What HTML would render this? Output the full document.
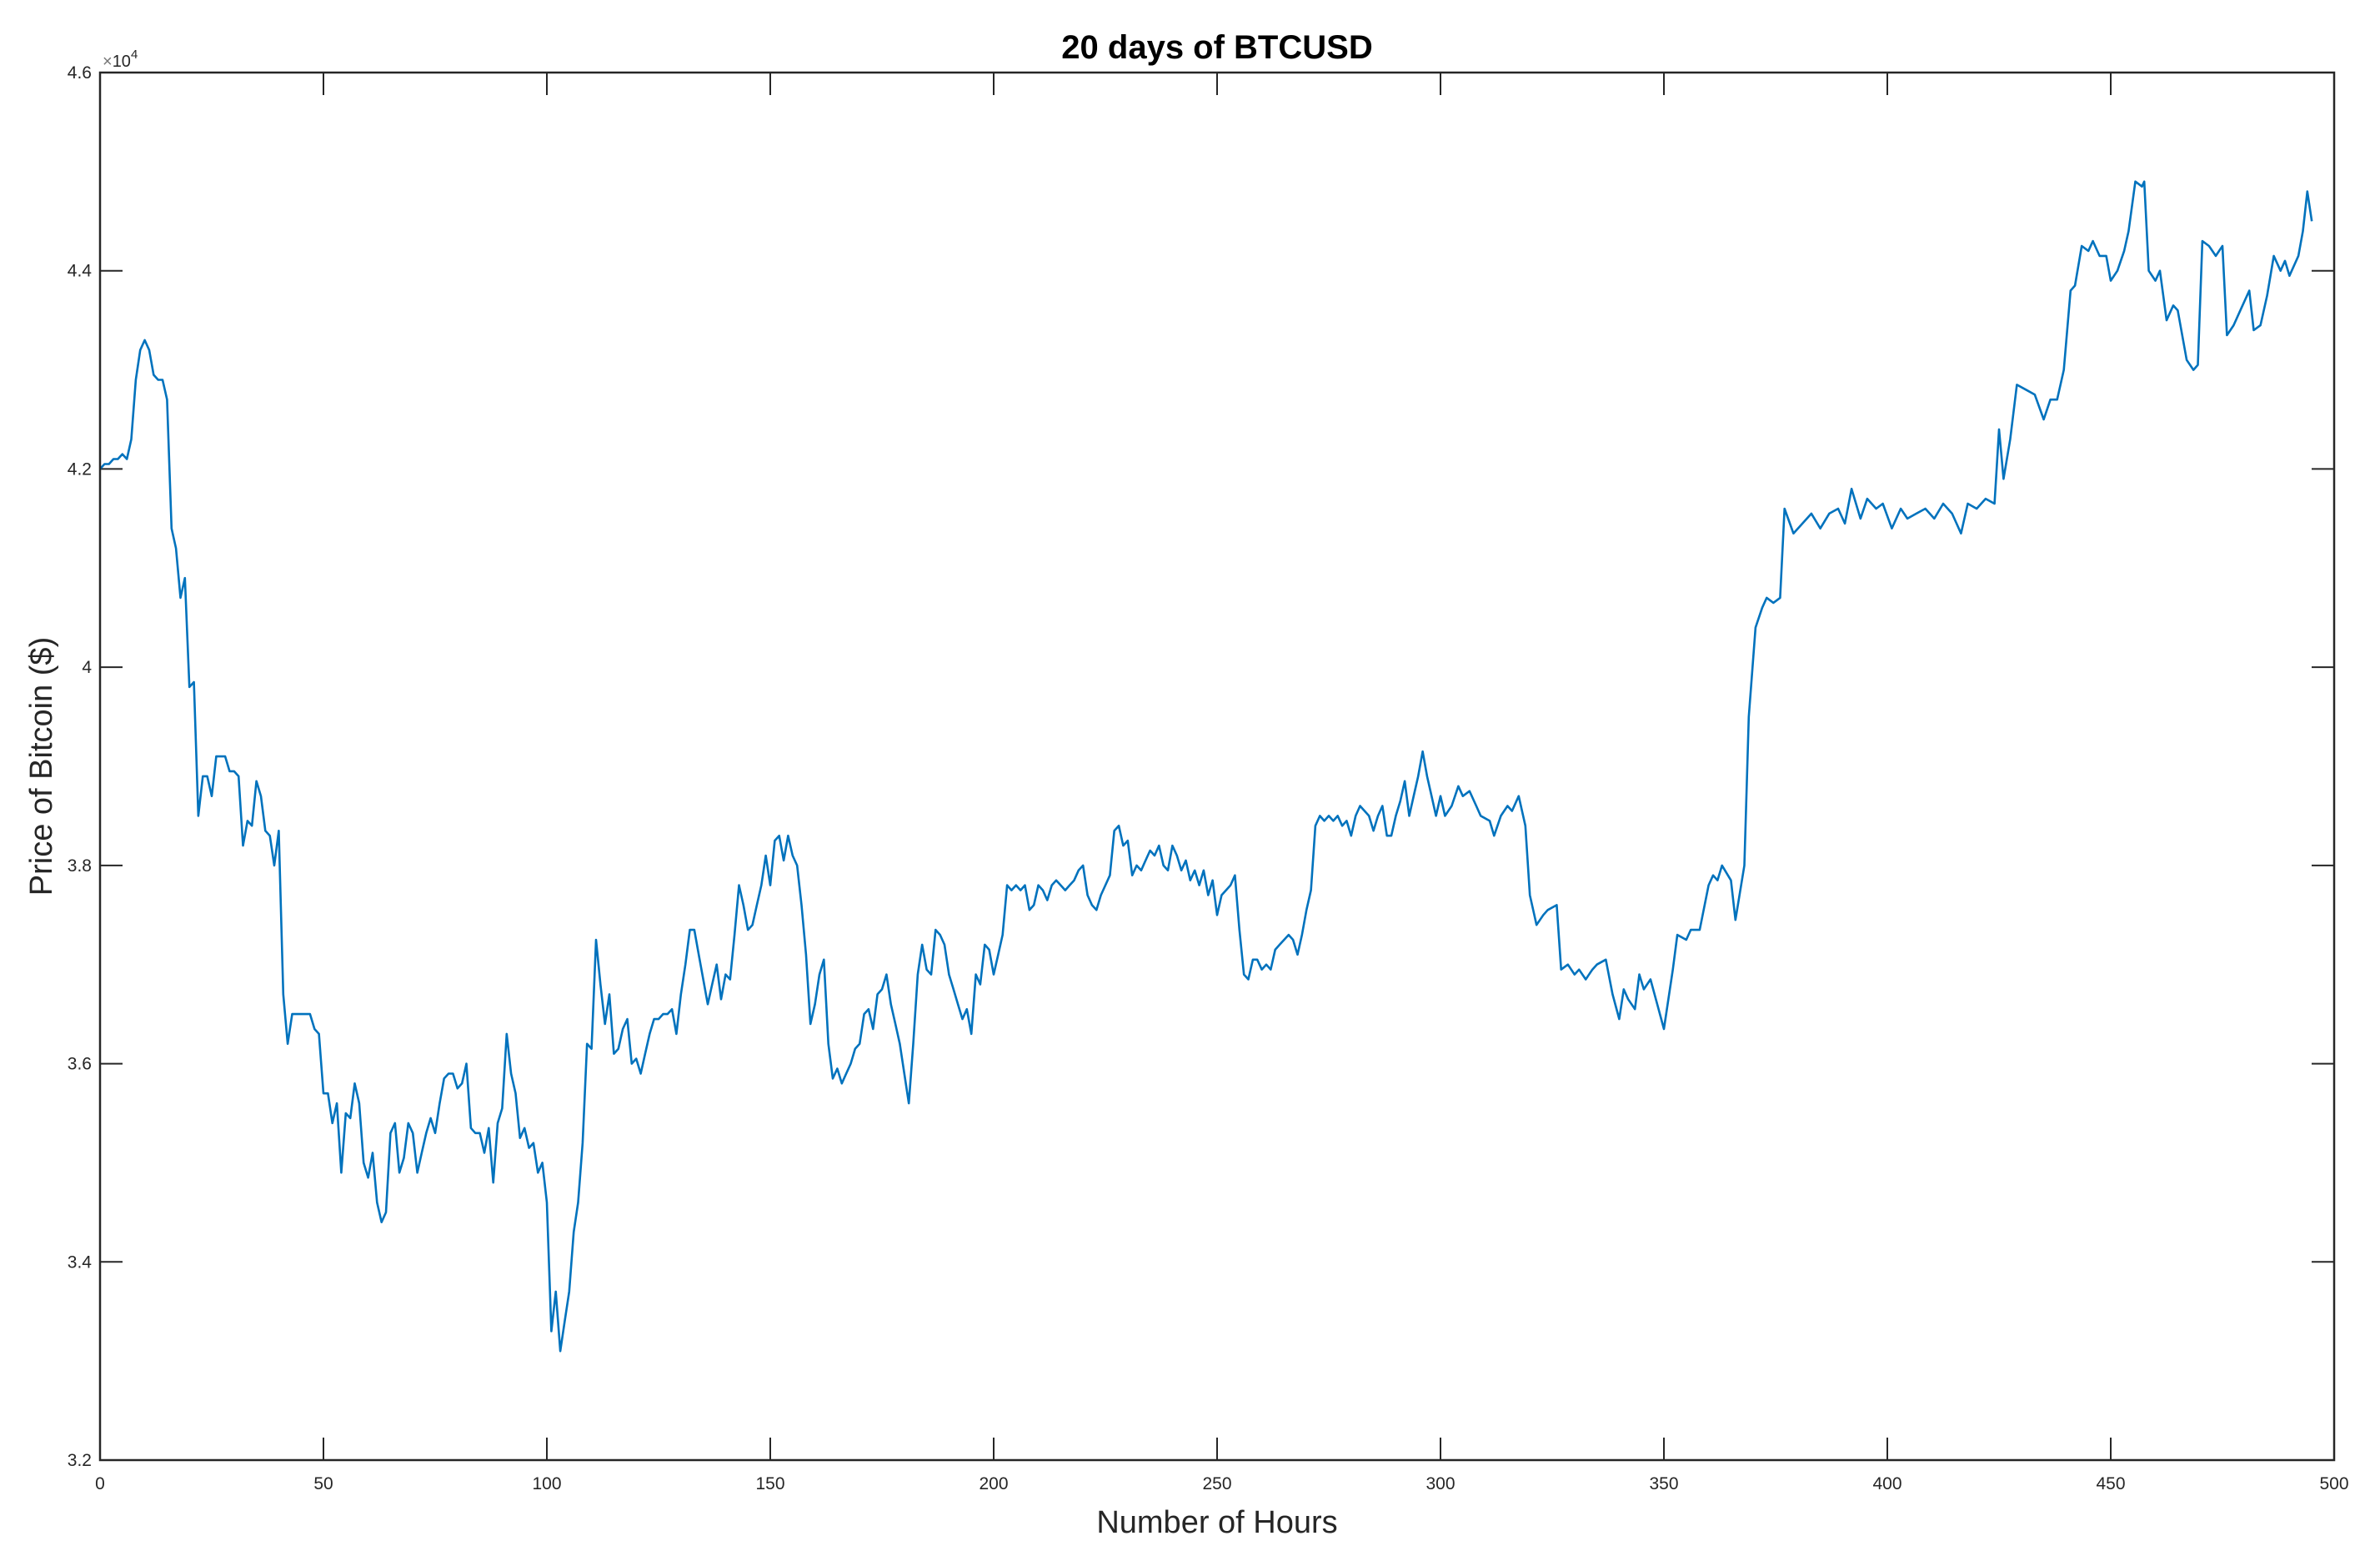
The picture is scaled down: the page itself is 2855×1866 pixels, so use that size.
<!DOCTYPE html>
<html><head><meta charset="utf-8"><style>
html,body{margin:0;padding:0;background:#fff;}
svg{display:block;font-family:"Liberation Sans",Arial,sans-serif;}
</style></head><body>
<svg id="chart" width="2855" height="1866" viewBox="0 0 2855 1866" xmlns="http://www.w3.org/2000/svg">
<rect x="0" y="0" width="2855" height="1866" fill="#fff"/>
<text x="1460" y="70" font-size="40" font-weight="bold" text-anchor="middle" fill="#000">20 days of BTCUSD</text>
<text x="1460" y="1838" font-size="38" text-anchor="middle" fill="#262626">Number of Hours</text>
<text transform="translate(62,919) rotate(-90)" font-size="38" text-anchor="middle" fill="#262626">Price of Bitcoin ($)</text>
<text x="123" y="80" font-size="20" fill="#262626"><tspan fill="#777">×</tspan>10<tspan dy="-10" font-size="15">4</tspan></text>
<g id="grid"></g>
<g id="plot"></g>
<rect x="120" y="87" width="2680" height="1664" fill="none" stroke="#262626" stroke-width="2.5"/>
</svg>
<script>
const xTicks = [0,50,100,150,200,250,300,350,400,450,500];
const yTicks = [3.2,3.4,3.6,3.8,4.0,4.2,4.4,4.6];
const yTickLabels = ["3.2","3.4","3.6","3.8","4","4.2","4.4","4.6"];
const pricesA = [42.0,42.05,42.05,42.1,42.1,42.15,42.1,42.3,42.9,43.2,43.3,43.2,42.95,42.9,42.9,42.7,41.4,41.2,40.7,40.9,39.8,39.85,38.5,38.9,38.9,38.7,39.1,39.1,39.1,38.95,38.95,38.9,38.2,38.45,38.4,38.85,38.7,38.35,38.3,38.0,38.35,36.7,36.2,36.5,36.5,36.5,36.5,36.5,36.35,36.3,35.7,35.7,35.4,35.6,34.9,35.5,35.45,35.8,35.6,35.0,34.85,35.1,34.6,34.4,34.5,35.3,35.4,34.9,35.05,35.4,35.3,34.9,35.1,35.3,35.45,35.3,35.6,35.85,35.9,35.9,35.75,35.8,36.0,35.35,35.3,35.3,35.1,35.35,34.8,35.4,35.55,36.3,35.9,35.7,35.25,35.35,35.15,35.2,34.9,35.0,34.6,33.3,33.7,33.1,33.4,33.7,34.3,34.6,35.2,36.2,36.15,37.25,36.8,36.4,36.7,36.1,36.15,36.35,36.45,36.0,36.05,35.9,36.1,36.3,36.45,36.45,36.5,36.5,36.55,36.3,36.7,37.0,37.35,37.35,37.1,36.85,36.6,36.8,37.0,36.65,36.9,36.85,37.3,37.8,37.6,37.35,37.4,37.6,37.8,38.1,37.8,38.25,38.3,38.05,38.3,38.1,38.0,37.6,37.1,36.4,36.6,36.9,37.05,36.2,35.85,35.95,35.8,35.9,36.0,36.15,36.2,36.5,36.55,36.35,36.7,36.75,36.9,36.6,36.4,36.2,35.9,35.6,36.2,36.9,37.2,36.95,36.9,37.35,37.3,37.2,36.9,36.75,36.6,36.45,36.55,36.3,36.9,36.8,37.2,37.15,36.9,37.1,37.3,37.8,37.75,37.8,37.75,37.8,37.55,37.6,37.8,37.75,37.65,37.8,37.85,37.8,37.75,37.8,37.85,37.95,38.0,37.7,37.6,37.55,37.7,37.8,37.9,38.35,38.4,38.2,38.25,37.9,38.0,37.95,38.05,38.15,38.1,38.2,38.0,37.95,38.2,38.1,37.95,38.05,37.85,37.95,37.8,37.95,37.7,37.85,37.5,37.7,37.75,37.8,37.9,37.35,36.9,36.85,37.05,37.05,36.95,37.0,36.95,37.15,37.2,37.25,37.3,37.25,37.1,37.3,37.55,37.75,38.4,38.5,38.45,38.5,38.45,38.5,38.4,38.45,38.3,38.5,38.6,38.55,38.5,38.35,38.5,38.6,38.3,38.3,38.5,38.65,38.85,38.5,38.7,38.9,39.15,38.9,38.7,38.5];
const hoursB = [300,301,302.5,304,305,306.5,308,309,311,312,313.5,315,316,317.5,319,320,321.5,323,324,326,327,328.5,330,331,332.5,334,335,337,338.5,340,341,342,343.5,344.5,345.5,347,348.5,350,352,353,355,356,358,360,361,362,363,365,366,368,369,370.5,372,373,374.5,376,377,379,381,383,385,387,389,390.5,392,394,395.5,397.5,399,401,403,404.5,406.5,408.5,410.5,412.5,414.5,416.5,418,420,422,424,425,426,427.5,429,431,433,435,436.5,438,439.5,441,442,443.5,445,446,447.5,449,450,451.5,453,454,455.5,457,457.5,458.5,460,461,462.5,464,465,467,468.5,469.5,470.5,472,473.5,475,476,477.5,479,481,482,483.5,485,486.5,488,489,490,492,493,494,495];
const pricesB = [38.7,38.5,38.6,38.8,38.7,38.75,38.6,38.5,38.45,38.3,38.5,38.6,38.55,38.7,38.4,37.7,37.4,37.5,37.55,37.6,36.95,37.0,36.9,36.95,36.85,36.95,37.0,37.05,36.7,36.45,36.75,36.65,36.55,36.9,36.75,36.85,36.6,36.35,36.95,37.3,37.25,37.35,37.35,37.8,37.9,37.85,38.0,37.85,37.45,38.0,39.5,40.4,40.6,40.7,40.65,40.7,41.6,41.35,41.45,41.55,41.4,41.55,41.6,41.45,41.8,41.5,41.7,41.6,41.65,41.4,41.6,41.5,41.55,41.6,41.5,41.65,41.55,41.35,41.65,41.6,41.7,41.65,42.4,41.9,42.3,42.85,42.8,42.75,42.5,42.7,42.7,43.0,43.8,43.85,44.25,44.2,44.3,44.15,44.15,43.9,44.0,44.2,44.4,44.9,44.85,44.9,44.0,43.9,44.0,43.5,43.65,43.6,43.1,43.0,43.05,44.3,44.25,44.15,44.25,43.35,43.45,43.6,43.8,43.4,43.45,43.75,44.15,44.0,44.1,43.95,44.15,44.4,44.8,44.5];

const X0=120,X1=2800,Y0=1751,Y1=87;
const xScale = h => X0 + (h-0)/(500-0)*(X1-X0);
const yScale = v => Y0 - (v-3.2)/(4.6-3.2)*(Y0-Y1);
const NS="http://www.w3.org/2000/svg";
const grid=document.getElementById('grid'), plot=document.getElementById('plot');
function mk(tag,attrs,parent){const e=document.createElementNS(NS,tag);for(const k in attrs)e.setAttribute(k,attrs[k]);parent.appendChild(e);return e;}
const TL=27;
xTicks.forEach((t,i)=>{
  const x=xScale(t);
  const a=mk('line',{x1:x,y1:Y0,x2:x,y2:Y0-TL,stroke:'#262626','stroke-width':2},grid);
  
  
  const b=mk('line',{x1:x,y1:Y1,x2:x,y2:Y1+TL,stroke:'#262626','stroke-width':2},grid);
  
  
  const tx=mk('text',{x:x,y:Y0+35,'font-size':21,'text-anchor':'middle',fill:'#262626'},grid);
  tx.textContent=String(t);
  
  
});
yTicks.forEach((t,i)=>{
  const y=yScale(t);
  const a=mk('line',{x1:X0,y1:y,x2:X0+TL,y2:y,stroke:'#262626','stroke-width':2},grid);
  
  
  const b=mk('line',{x1:X1,y1:y,x2:X1-TL,y2:y,stroke:'#262626','stroke-width':2},grid);
  
  
  const tx=mk('text',{x:X0-10,y:y+7,'font-size':21,'text-anchor':'end',fill:'#262626'},grid);
  tx.textContent=yTickLabels[i];
  
  
});
const hoursA = pricesA.map((p,i)=>i);
const hours=hoursA.concat(hoursB), prices=pricesA.concat(pricesB);
const pts=[];
for(let i=0;i<hours.length;i++){
  const h=hours[i], p=prices[i];
  if(typeof h!=='number'||typeof p!=='number'||isNaN(h)||isNaN(p)) continue;
  pts.push(xScale(h).toFixed(1)+' '+yScale(p/10).toFixed(1));
}
const d='M'+pts.join(' L');
const line=mk('path',{d:d,fill:'none',stroke:'#0072BD','stroke-width':2.6,'stroke-linejoin':'round'},plot);


</script>
</body></html>
